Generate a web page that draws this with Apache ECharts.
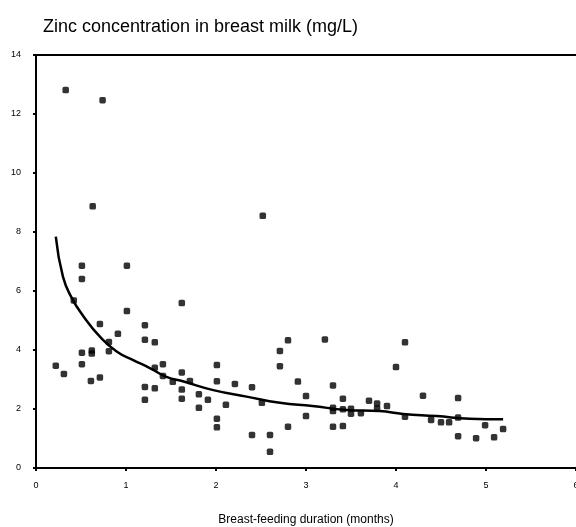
<!DOCTYPE html>
<html>
<head>
<meta charset="utf-8">
<script src="https://cdn.jsdelivr.net/npm/echarts@6/dist/echarts.min.js"></script>
<style>
  html, body { margin: 0; padding: 0; background: #fff; }
  #myChart { width: 576px; height: 527px; }
</style>
</head>
<body>
<div id="myChart"></div>
<script>
// measured points: duration (months) and zinc (mg/L)
var months = [
  0.33, 0.74, 0.63, 2.52,
  0.22, 0.31, 0.42, 0.51, 0.51, 0.51, 0.51, 0.62, 0.62, 0.61, 0.71, 0.71,
  0.81, 0.81, 0.91, 1.01, 1.01, 1.21, 1.21, 1.21, 1.21, 1.32, 1.32, 1.32,
  1.41, 1.41, 1.52, 1.62, 1.62, 1.62, 1.62, 1.71, 1.81, 1.81, 1.91,
  2.01, 2.01, 2.01, 2.01, 2.11, 2.21, 2.40, 2.40, 2.51, 2.60, 2.60,
  2.71, 2.71, 2.80, 2.80, 2.91, 3.00, 3.00, 3.21, 3.30, 3.30, 3.30, 3.30,
  3.41, 3.41, 3.41, 3.50, 3.50, 3.61, 3.70, 3.79, 3.79, 3.90,
  4.00, 4.10, 4.10, 4.30, 4.39, 4.50, 4.59, 4.69, 4.69, 4.69,
  4.89, 4.99, 5.09, 5.19
];
var zinc = [
  12.81, 12.47, 8.87, 8.55,
  3.47, 3.19, 5.68, 6.86, 6.41, 3.91, 3.52, 3.98, 3.88, 2.95, 3.07, 4.88,
  4.27, 3.96, 4.55, 6.86, 5.32, 4.84, 4.35, 2.75, 2.31, 4.26, 3.40, 2.70,
  3.52, 3.12, 2.92, 5.59, 3.24, 2.66, 2.35, 2.95, 2.50, 2.04, 2.31,
  3.49, 2.94, 1.67, 1.38, 2.14, 2.85, 2.74, 1.12, 2.21, 1.12, 0.55,
  3.97, 3.45, 4.33, 1.40, 2.93, 2.44, 1.76, 4.36, 2.80, 2.04, 1.93, 1.40,
  2.35, 1.99, 1.42, 2.01, 1.84, 1.86, 2.28, 2.19, 2.02, 2.10,
  3.42, 4.26, 1.74, 2.45, 1.63, 1.55, 1.55, 2.37, 1.71, 1.08,
  1.01, 1.45, 1.04, 1.32
];
// fitted curve
var curveX = [0.22, 0.30, 0.40, 0.53, 0.71, 0.90, 1.08, 1.27, 1.45, 1.64, 1.97, 2.34, 2.71, 3.07, 3.45, 3.82, 4.08, 4.45, 4.82, 5.19];
var curveY = [7.84, 6.48, 5.75, 5.13, 4.45, 3.94, 3.66, 3.38, 3.09, 2.93, 2.64, 2.42, 2.21, 2.10, 1.97, 1.93, 1.83, 1.76, 1.67, 1.65];

var titleText = 'Zinc concentration in breast milk (mg/L)';
var xName = 'Breast-feeding duration (months)';

var points = months.map(function (m, i) { return [m, zinc[i]]; });
var curve = curveX.map(function (m, i) { return [m, curveY[i]]; });

var myChart = echarts.init(document.getElementById('myChart'));
var font = '"Liberation Sans", Arial, sans-serif';
myChart.setOption({
  animation: false,
  backgroundColor: '#fff',
  title: {
    text: titleText,
    left: 38,
    top: 13,
    textStyle: { fontFamily: font, fontSize: 18, fontWeight: 'normal', color: '#000' }
  },
  grid: { left: 36, right: 0, top: 55, bottom: 59, outerBoundsMode: 'none', containLabel: false },
  xAxis: [
    {
      type: 'value',
      min: 0,
      max: 6,
      interval: 1,
      name: xName,
      nameLocation: 'middle',
      nameGap: 46,
      nameTextStyle: { fontFamily: font, fontSize: 12, color: '#000' },
      axisLine: { lineStyle: { color: '#000', width: 2 } },
      axisTick: { length: 3, lineStyle: { color: '#000', width: 2 } },
      axisLabel: { fontFamily: font, fontSize: 9, color: '#000', margin: 13 },
      splitLine: { show: false }
    },
    {
      // top frame line
      type: 'value',
      position: 'top',
      min: 0,
      max: 6,
      axisLine: { lineStyle: { color: '#000', width: 2 } },
      axisTick: { show: false },
      axisLabel: { show: false },
      splitLine: { show: false }
    }
  ],
  yAxis: {
    type: 'value',
    min: 0,
    max: 14,
    interval: 2,
    axisLine: { show: true, lineStyle: { color: '#000', width: 2 } },
    axisTick: { show: true, length: 3, lineStyle: { color: '#000', width: 2 } },
    axisLabel: { fontFamily: font, fontSize: 9, color: '#000', margin: 15 },
    splitLine: { show: false }
  },
  series: [
    {
      type: 'scatter',
      symbol: 'roundRect',
      symbolSize: 6.5,
      itemStyle: { color: '#000' },
      data: points
    },
    {
      type: 'line',
      smooth: true,
      showSymbol: false,
      lineStyle: { color: '#000', width: 2.5 },
      data: curve
    }
  ]
});
</script>
</body>
</html>
